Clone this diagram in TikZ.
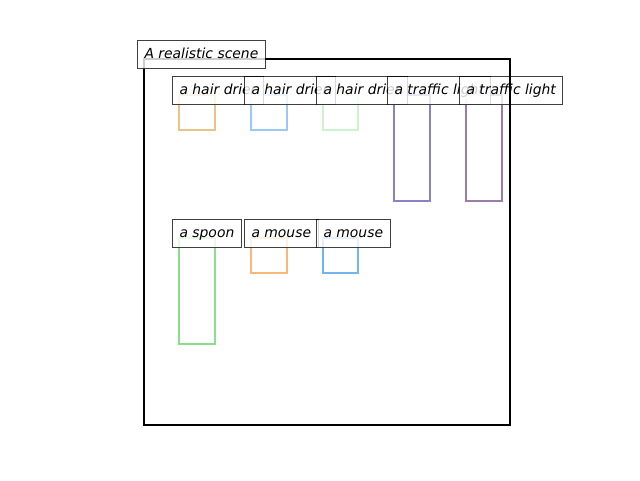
\documentclass[tikz,border=0pt]{standalone}
\usepackage{fontspec}
\setmainfont{DejaVu Sans}[ItalicFont={DejaVu Sans Oblique}]
\usetikzlibrary{positioning}

\definecolor{drierA}{HTML}{E9C48A}
\definecolor{drierB}{HTML}{9BC8F5}
\definecolor{drierC}{HTML}{CDF2CD}
\definecolor{lightA}{HTML}{8C7FCC}
\definecolor{lightB}{HTML}{9A7DAA}
\definecolor{spoonA}{HTML}{8BDD8B}
\definecolor{mouseA}{HTML}{F8B878}
\definecolor{mouseB}{HTML}{70B5EE}

\begin{document}
\begin{tikzpicture}[x=1pt,y=-1pt,
  objbox/.style={line width=2.2pt},
  tag/.style={anchor=north west,draw=black,fill=white,draw opacity=0.75,
    fill opacity=0.8,text opacity=1,line width=1pt,minimum height=28pt,
    text height=10pt,text depth=3pt,
    inner xsep=7pt,inner ysep=0pt,font=\fontsize{13.9}{16}\selectfont\itshape}]
  \useasboundingbox (0,0) rectangle (640,480);
  \draw[objbox,drierA] (179,95) rectangle (215,130);
  \draw[objbox,drierB] (251,95) rectangle (287,130);
  \draw[objbox,drierC] (323,95) rectangle (358,130);
  \draw[objbox,lightA] (394,95) rectangle (430,201);
  \draw[objbox,lightB] (466,95) rectangle (502,201);
  \draw[objbox,spoonA] (179,238) rectangle (215,344);
  \draw[objbox,mouseA] (251,238) rectangle (287,273);
  \draw[objbox,mouseB] (323,238) rectangle (358,273);
  \node[tag] (T1) at (172,76) {a hair drier};
  \node[tag] (T2) at (244,76) {a hair drier};
  \node[tag] (T3) at (316,76) {a hair drier};
  \node[tag] (T4) at (387,76) {a traffic light};
  \node[tag] (T5) at (459,76) {a traffic light};
  \node[tag] (T6) at (172,219) {a spoon};
  \node[tag] (T7) at (244,219) {a mouse};
  \node[tag] (T8) at (316,219) {a mouse};
  \draw[line width=2.2pt] (144,59) rectangle (510,425);
  \node[tag] (scene) at (137,40) {A realistic scene};
\end{tikzpicture}
\end{document}
